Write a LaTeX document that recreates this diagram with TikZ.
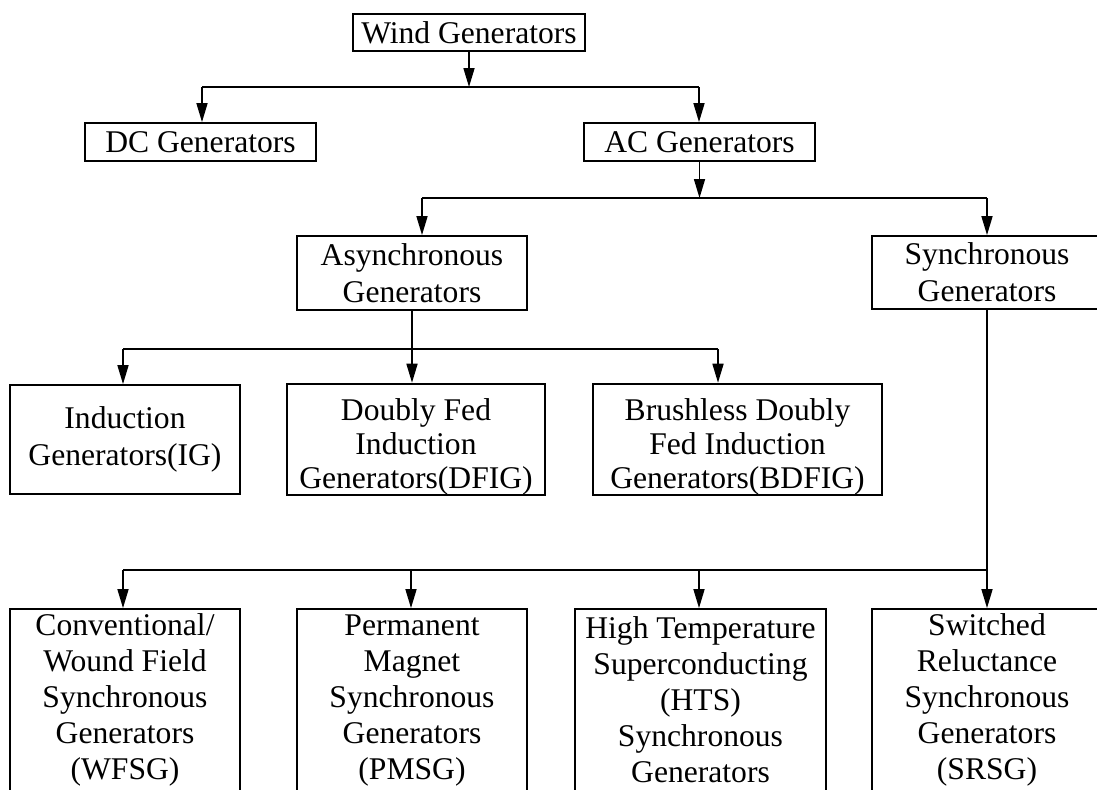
\documentclass[tikz,border=0pt]{standalone}
\usepackage{fontspec}
\setmainfont{Liberation Serif}
\usetikzlibrary{arrows.meta}
\begin{document}
\begin{tikzpicture}[x=0.5pt,y=-0.5pt,
  box/.style={draw, line width=0.9pt, inner sep=0pt, align=center,
    font=\fontsize{15.8pt}{18.5pt}\selectfont},
  tight/.style={font=\fontsize{15.8pt}{17pt}\selectfont},
  tall/.style={font=\fontsize{15.8pt}{18pt}\selectfont},
  conn/.style={line width=0.8pt},
  arr/.style={conn, -{Triangle[length=9.5pt,width=5.5pt]}}]
\useasboundingbox (0,0) rectangle (1097,789);
\clip (0,0) rectangle (1097,789);
\fill[white] (0,0) rectangle (1097,789);

% level 0/1
\node[box, minimum width=116pt, minimum height=18.5pt] (wind) at (469,32.5) {Wind Generators};
\node[box, minimum width=115.5pt, minimum height=19pt] (dc) at (200.5,142) {DC Generators};
\node[box, minimum width=115.5pt, minimum height=19pt] (ac) at (699.5,142) {AC Generators};

% level 2
\node[box, minimum width=115pt, minimum height=37pt] (async) at (412,273) {Asynchronous\\Generators};
\node[box, minimum width=115pt, minimum height=36.5pt] (sync) at (987,272.5) {Synchronous\\Generators};

% level 3
\node[box, minimum width=115pt, minimum height=54.5pt] (ig) at (125,439.5) {Induction\\Generators(IG)};
\node[box, tight, minimum width=129pt, minimum height=54.5pt] (dfig) at (416,439.5) {\rule{0pt}{18.5pt}Doubly Fed\\Induction\\Generators(DFIG)};
\node[box, tight, minimum width=144.5pt, minimum height=54.5pt] (bdfig) at (737.5,439.5) {\rule{0pt}{18.5pt}Brushless Doubly\\Fed Induction\\Generators(BDFIG)};

% level 4 (boxes run past the lower edge)
\node[box, tall, minimum width=115pt, minimum height=91pt] (wfsg) at (125,700) {Conventional/\\Wound Field\\Synchronous\\Generators\\(WFSG)};
\node[box, tall, minimum width=115pt, minimum height=91pt] (pmsg) at (412,700) {Permanent\\Magnet\\Synchronous\\Generators\\(PMSG)};
\node[box, tall, minimum width=125.5pt, minimum height=91pt] (hts) at (700.5,700) {High Temperature\\Superconducting\\(HTS)\\Synchronous\\Generators};
\node[box, tall, minimum width=115pt, minimum height=91pt] (srsg) at (987,700) {Switched\\Reluctance\\Synchronous\\Generators\\(SRSG)};

% connectors level 0 -> 1
\coordinate (b1l) at (202,87);
\coordinate (b1r) at (699,87);
\draw[arr] (wind.south) -- (wind.south |- b1l);
\draw[conn] (b1l) -- (b1r);
\draw[arr] (b1l) -- (b1l |- dc.north);
\draw[arr] (b1r) -- (b1r |- ac.north);

% AC -> level 2
\coordinate (b2l) at (422,198);
\coordinate (b2r) at (987,198);
\draw[arr] (ac.south) -- (ac.south |- b2l);
\draw[conn] (b2l) -- (b2r);
\draw[arr] (b2l) -- (b2l |- async.north);
\draw[arr] (b2r) -- (sync.north);

% Async -> level 3
\coordinate (b3l) at (123,349);
\coordinate (b3r) at (718,349);
\draw[arr] (async.south) -- (async.south |- dfig.north);
\draw[conn] (b3l) -- (b3r);
\draw[arr] (b3l) -- (b3l |- ig.north);
\draw[arr] (b3r) -- (b3r |- bdfig.north);

% Sync -> level 4
\coordinate (b4l) at (123,570);
\coordinate (b4m) at (411,570);
\coordinate (b4n) at (699,570);
\draw[arr] (sync.south) -- (srsg.north);
\draw[conn] (b4l) -- (sync.south |- b4l);
\draw[arr] (b4l) -- (b4l |- wfsg.north);
\draw[arr] (b4m) -- (b4m |- pmsg.north);
\draw[arr] (b4n) -- (b4n |- hts.north);
\end{tikzpicture}
\end{document}
